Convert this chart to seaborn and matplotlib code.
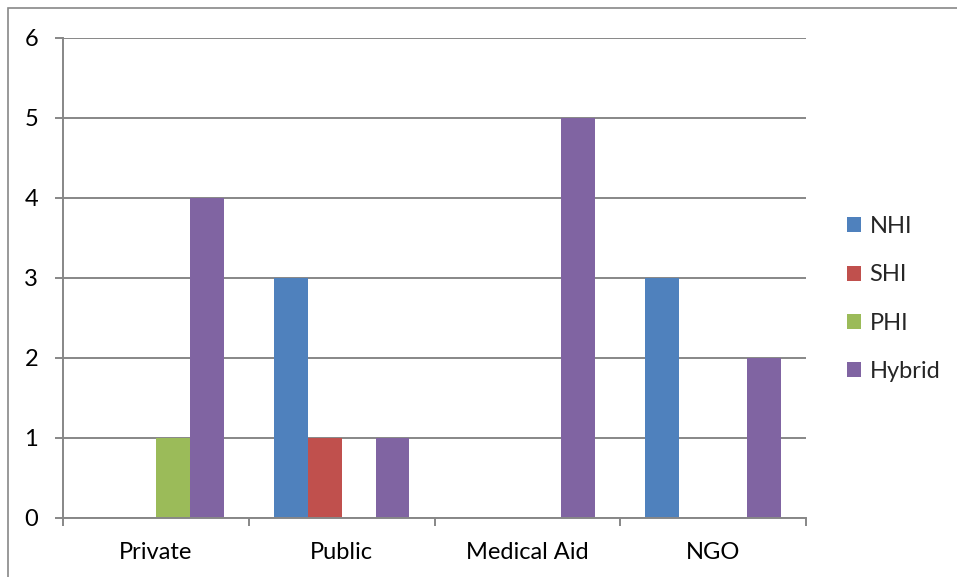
import matplotlib
matplotlib.use("Agg")
import matplotlib.pyplot as plt
import seaborn as sns
import pandas as pd
from matplotlib.patches import Rectangle, Patch

categories = ["Private", "Public", "Medical Aid", "NGO"]
series = ["NHI", "SHI", "PHI", "Hybrid"]
nhi = [0, 3, 0, 3]
shi = [0, 1, 0, 0]
phi = [1, 0, 0, 0]
hybrid = [4, 1, 5, 2]
colors = ["#4F81BD", "#C0504D", "#9BBB59", "#8064A2"]
yticks = [0, 1, 2, 3, 4, 5, 6]

rows = []
for name, vals in zip(series, [nhi, shi, phi, hybrid]):
    for c, v in zip(categories, vals):
        rows.append({"category": c, "series": name, "value": v})
df = pd.DataFrame(rows)

sns.set_theme(style="white")
plt.rcParams["font.family"] = ["Lato", "DejaVu Sans"]

W, H = 957, 577
fig = plt.figure(figsize=(W / 100, H / 100), dpi=100)
ax = fig.add_axes([63 / W, (H - 518) / H, (806 - 63) / W, (518 - 38) / H])

sns.barplot(data=df, x="category", y="value", hue="series", hue_order=series,
            order=categories, palette=colors, width=0.73, gap=0,
            saturation=1, ax=ax, legend=False, errorbar=None, linewidth=0)

grid_c = "#878787"
fs = 17
ax.set_ylim(0, 6)
ax.set_xlim(-0.5, 3.5)
ax.set_yticks(yticks)
ax.set_yticklabels([str(t) for t in yticks], fontsize=fs, color="black")
ax.yaxis.grid(True, color=grid_c, linewidth=1.4)
ax.set_axisbelow(True)
for s in ["top", "right"]:
    ax.spines[s].set_visible(False)
for s in ["left", "bottom"]:
    ax.spines[s].set_color(grid_c)
    ax.spines[s].set_linewidth(1.4)
ax.tick_params(axis="y", length=6, width=1.4, color=grid_c, pad=12, left=True)
ax.set_xticks(range(len(categories)))
ax.set_xticklabels(categories, fontsize=fs, color="black")
ax.tick_params(axis="x", which="major", length=0, pad=17)
ax.set_xticks([-0.5, 0.5, 1.5, 2.5, 3.5], minor=True)
ax.tick_params(axis="x", which="minor", length=6, width=1.4, color=grid_c, bottom=True)
ax.set_xlabel("")
ax.set_ylabel("")

handles = [Patch(facecolor=c, edgecolor="none", label=s) for s, c in zip(series, colors)]
fig.legend(handles=handles, loc="center left", bbox_to_anchor=(847 / W, 1 - 299 / H),
           frameon=False, fontsize=fs, handlelength=0.6, handleheight=0.6,
           handletextpad=0.35, labelspacing=1.15, borderpad=0, borderaxespad=0)

fig.patches.append(Rectangle((8 / W, -0.1), 2, (1 - 8 / H) + 0.1,
                             transform=fig.transFigure, fill=False,
                             edgecolor="#888888", linewidth=1.2))

fig.savefig("out.png", dpi=100)
